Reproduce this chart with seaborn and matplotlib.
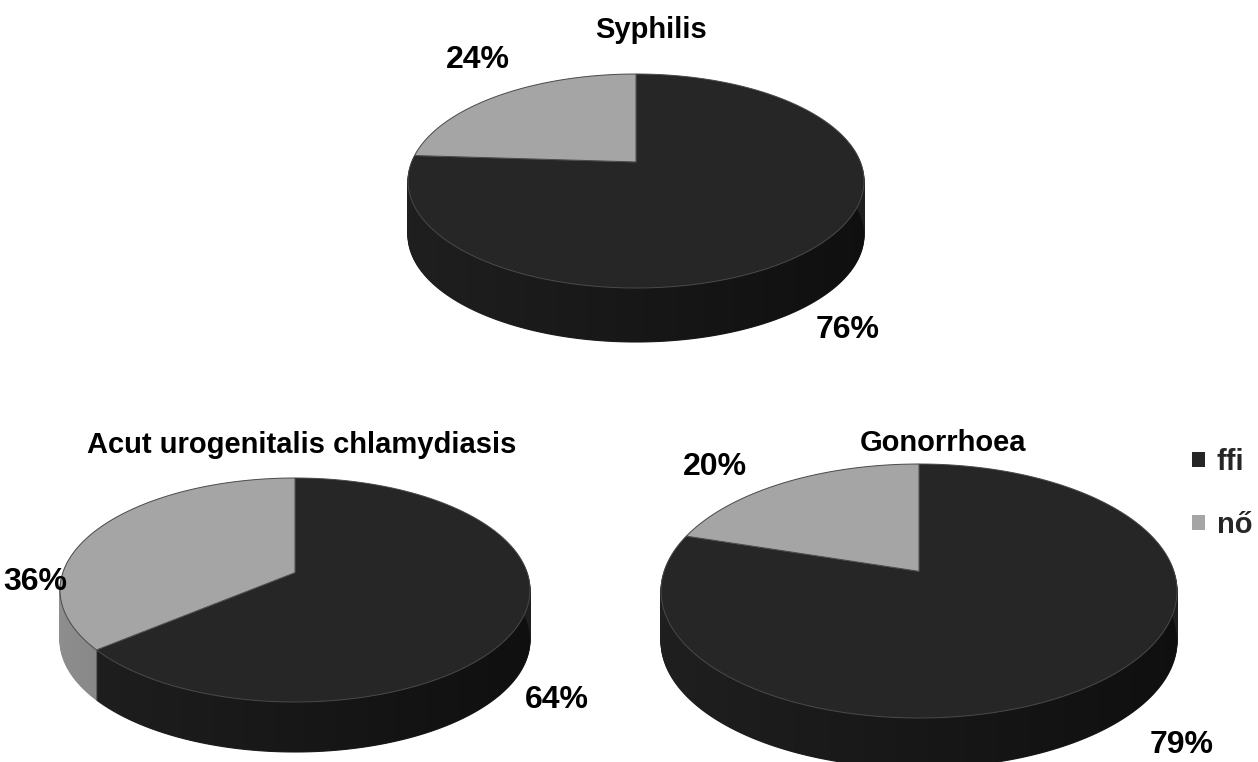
import numpy as np
import matplotlib
matplotlib.use("Agg")
import matplotlib.pyplot as plt
import matplotlib.transforms as mtransforms
from matplotlib.path import Path
from matplotlib.patches import PathPatch
import seaborn as sns

sns.set_theme(style="white")
plt.rcParams['font.family'] = ['Liberation Sans', 'DejaVu Sans']

# ---- data ----
diseases = ["Syphilis", "Acut urogenitalis chlamydiasis", "Gonorrhoea"]
ffi_pct = [76, 64, 79]
no_pct = [24, 36, 20]
series_names = ["ffi", "nő"]

# ---- layout (pixels, y measured from top) ----
W, H = 1258, 762
geom = [  # cx, ellipse-centre y, rx, ry, depth, perspective k
    (636, 181, 228, 107, 54, 0.178),
    (295, 590, 235, 112, 50, 0.155),
    (919, 591, 258, 127, 50, 0.155),
]
title_pos = [(651, 30), (302, 445), (943, 443)]
lab_pos = [  # (ffi label, nő label)
    ((848, 330), (478, 60)),
    ((557, 700), (35, 582)),
    ((1182, 745), (715, 467)),
]

top_cols = ["#262626", "#a5a5a5"]
side_cols = ["#1f1f1f", "#8e8e8e"]


class Persp(mtransforms.Transform):
    """Simple perspective tilt of a unit disc (far side = +y)."""
    input_dims = 2
    output_dims = 2
    is_separable = False
    has_inverse = False

    def __init__(self, k):
        super().__init__()
        self.k = k

    def transform_non_affine(self, xy):
        xy = np.asarray(xy, dtype=float)
        d = 1.0 + self.k * xy[:, 1]
        return np.column_stack([xy[:, 0] / d, xy[:, 1] / d])

    def transform_path_non_affine(self, path):
        pts = []
        ts = np.linspace(0, 1, 24)
        for seg, code in path.iter_bezier():
            if code == Path.MOVETO:
                pts.append(np.atleast_2d(seg.control_points[-1]))
            else:
                pts.append(seg(ts)[1:])
        verts = np.concatenate(pts)
        return Path(self.transform_non_affine(verts), closed=True)


fig = plt.figure(figsize=(W / 100, H / 100), dpi=100)
ax = fig.add_axes([0, 0, 1, 1])

grad = np.zeros((1, 256, 4))
grad[..., 3] = np.linspace(0.0, 0.5, 256)

legend_handles = None
for i, name in enumerate(diseases):
    cx, cyc_px, rx, ry, depth, k = geom[i]
    a = rx * np.sqrt(1 - k * k)
    b = ry * (1 - k * k)
    vy = H - (cyc_px - k * ry)  # vertex (data coords, y up)
    vals = [ffi_pct[i], no_pct[i]]

    def geo_tr(off):
        return Persp(k) + mtransforms.Affine2D().scale(a, b).translate(cx, vy - off)

    # side wall: stacked layers
    for off in range(depth, 0, -1):
        wl, _ = ax.pie(vals, colors=side_cols, startangle=90, counterclock=False,
                       radius=1, center=(0, 0), frame=True,
                       wedgeprops=dict(linewidth=0.8))
        tr = geo_tr(off) + ax.transData
        for w, c in zip(wl, side_cols):
            w.set_transform(tr)
            w.set_edgecolor(c)
            w.set_zorder(1)

    # horizontal shading of the side wall
    th = np.linspace(np.pi * 0.97, np.pi * 2.03, 200)
    circ = np.column_stack([np.cos(th), np.sin(th)])
    upper = geo_tr(0).transform(circ)
    lower = geo_tr(depth).transform(circ[::-1])
    side_path = Path(np.concatenate([upper, lower, upper[:1]]), closed=True)
    clip = PathPatch(side_path, transform=ax.transData)
    im = ax.imshow(grad, extent=(cx - rx - 3, cx + rx + 3, lower[:, 1].min() - 2,
                                 upper[:, 1].max() + 2),
                   aspect="auto", interpolation="bilinear", zorder=1.5)
    im.set_clip_path(clip)

    wt, _ = ax.pie(vals, colors=top_cols, startangle=90, counterclock=False,
                   radius=1, center=(0, 0), frame=True,
                   wedgeprops=dict(linewidth=0.7, edgecolor="#4a4a4a"))
    tr = geo_tr(0) + ax.transData
    for w in wt:
        w.set_transform(tr)
        w.set_zorder(2)
    if legend_handles is None:
        legend_handles = wt
    # title
    tx, ty = title_pos[i]
    ax.text(tx, H - ty, name, ha="center", va="center", fontsize=21,
            fontweight="bold", color="black", zorder=3)
    # labels
    for j, v in enumerate(vals):
        lx, ly = lab_pos[i][j]
        ax.text(lx, H - ly, f"{v}%", ha="center", va="center", fontsize=23,
                fontweight="bold", color="black", zorder=3)

ax.set_aspect("auto")
ax.set_xlim(0, W)
ax.set_ylim(0, H)
ax.axis("off")

leg = ax.legend(legend_handles, series_names, loc="upper left",
                bbox_to_anchor=(1192 / W, 1 - 448 / H), frameon=False,
                fontsize=21, handlelength=0.45, handleheight=0.45,
                handletextpad=0.4, labelspacing=1.2, borderaxespad=0,
                borderpad=0)
for t in leg.get_texts():
    t.set_fontweight("bold")
for h in leg.legend_handles:
    h.set_edgecolor("none")

fig.savefig("out.png", dpi=100)
